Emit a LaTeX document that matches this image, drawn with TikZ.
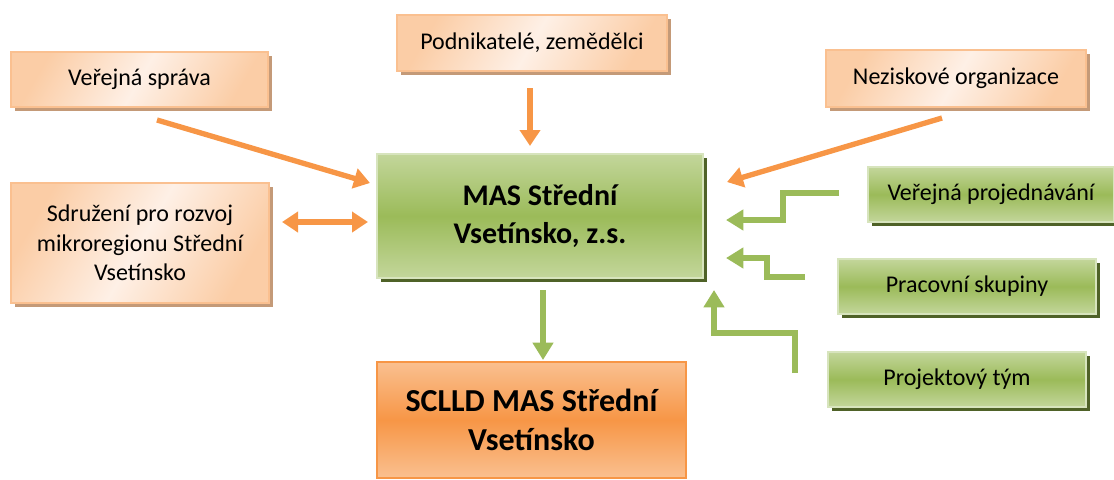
\documentclass[tikz,border=0pt]{standalone}
\usepackage{fontspec}
\setmainfont{Carlito}
\usetikzlibrary{arrows.meta,shadows}
\definecolor{orA}{HTML}{F79646}
\definecolor{orB}{HTML}{FAC090}
\definecolor{orC}{HTML}{FBCDA6}
\definecolor{orD}{HTML}{FEF0E6}
\definecolor{orSh}{HTML}{C49A78}
\definecolor{grA}{HTML}{9BBB59}
\definecolor{grB}{HTML}{C3D69B}
\definecolor{grC}{HTML}{D7E4BD}
\definecolor{grSh}{HTML}{4F6228}
\tikzset{
  obox/.style={draw=orB, line width=1.2pt, left color=orC, right color=orC, middle color=orD, shading angle=60,
    drop shadow={shadow xshift=3pt, shadow yshift=-3pt, fill=orSh, opacity=1},
    align=center, inner sep=0pt, font=\fontsize{18}{22}\selectfont},
  gbox/.style={draw=grC, line width=1.2pt, top color=grB, bottom color=grB, middle color=grA,
    drop shadow={shadow xshift=3pt, shadow yshift=-3pt, fill=grSh, opacity=1},
    align=center, inner sep=0pt, font=\fontsize{18}{22}\selectfont},
  obig/.style={draw=orA, line width=1.2pt, top color=orB, bottom color=orB, middle color=orA,
    align=center, inner sep=0pt, font=\bfseries\fontsize{24}{29}\selectfont},
  oarr/.style={draw=orA, line width=4pt, -{Triangle[width=15pt,length=12pt]}},
  oarrb/.style={draw=orA, line width=4pt, {Triangle[width=15pt,length=12pt]}-{Triangle[width=15pt,length=12pt]}},
  garr/.style={draw=grA, line width=4pt, -{Triangle[width=15pt,length=13pt]}},
}
\begin{document}
\begin{tikzpicture}[x=0.75pt,y=-0.75pt]
\useasboundingbox (0,0) rectangle (1114,479);
% orange boxes
\node[obox, minimum width=257*0.75pt, minimum height=55*0.75pt] (vs) at (139.5,79.5) {Veřejná správa};
\node[obox, minimum width=270*0.75pt, minimum height=56*0.75pt] (pz) at (532,43) {Podnikatelé, zemědělci};
\node[obox, minimum width=260*0.75pt, minimum height=57*0.75pt] (no) at (956,78.5) {Neziskové organizace};
\node[obox, minimum width=258*0.75pt, minimum height=120*0.75pt] (sd) at (140,243) {Sdružení pro rozvoj\\mikroregionu Střední\\Vsetínsko};
% central
\node[gbox, minimum width=326*0.75pt, minimum height=124*0.75pt, font=\bfseries\fontsize{22.5}{28.5}\selectfont] (mas) at (540,216) {MAS Střední\\Vsetínsko, z.s.};
\node[obig, minimum width=309*0.75pt, minimum height=116*0.75pt] (scl) at (531.5,420) {SCLLD MAS Střední\\Vsetínsko};
% green boxes
\node[gbox, minimum width=246*0.75pt, minimum height=55*0.75pt] (vp) at (991,194.5) {Veřejná projednávání};
\node[gbox, minimum width=258*0.75pt, minimum height=55*0.75pt] (ps) at (967,286.5) {Pracovní skupiny};
\node[gbox, minimum width=258*0.75pt, minimum height=55*0.75pt] (pt) at (957,379.5) {Projektový tým};
% connector ends
\coordinate (a1s) at (157,120); \coordinate (a1e) at (370,183);
\coordinate (a2s) at (530,88);  \coordinate (a2e) at (530,146);
\coordinate (a3s) at (942,118); \coordinate (a3e) at (727,182);
\coordinate (a4s) at (282,222); \coordinate (a4e) at (368,222);
\coordinate (g1s) at (839,193); \coordinate (g1e) at (726,220);
\coordinate (g2s) at (805,277); \coordinate (g2e) at (726,258);
\coordinate (g3s) at (795,373); \coordinate (g3e) at (714,290);
\coordinate (g4s) at (543,290); \coordinate (g4e) at (543,360);
% connectors
\draw[oarr] (a1s) -- (a1e);
\draw[oarr] (a2s) -- (a2e);
\draw[oarr] (a3s) -- (a3e);
\draw[oarrb] (a4s) -- (a4e);
\draw[garr] (g1s) -- (783,193) -- (783,220) -- (g1e);
\draw[garr] (g2s) -- (767,277) -- (767,258) -- (g2e);
\draw[garr] (g3s) -- (795,333) -- (714,333) -- (g3e);
\draw[garr] (g4s) -- (g4e);
\end{tikzpicture}
\end{document}
